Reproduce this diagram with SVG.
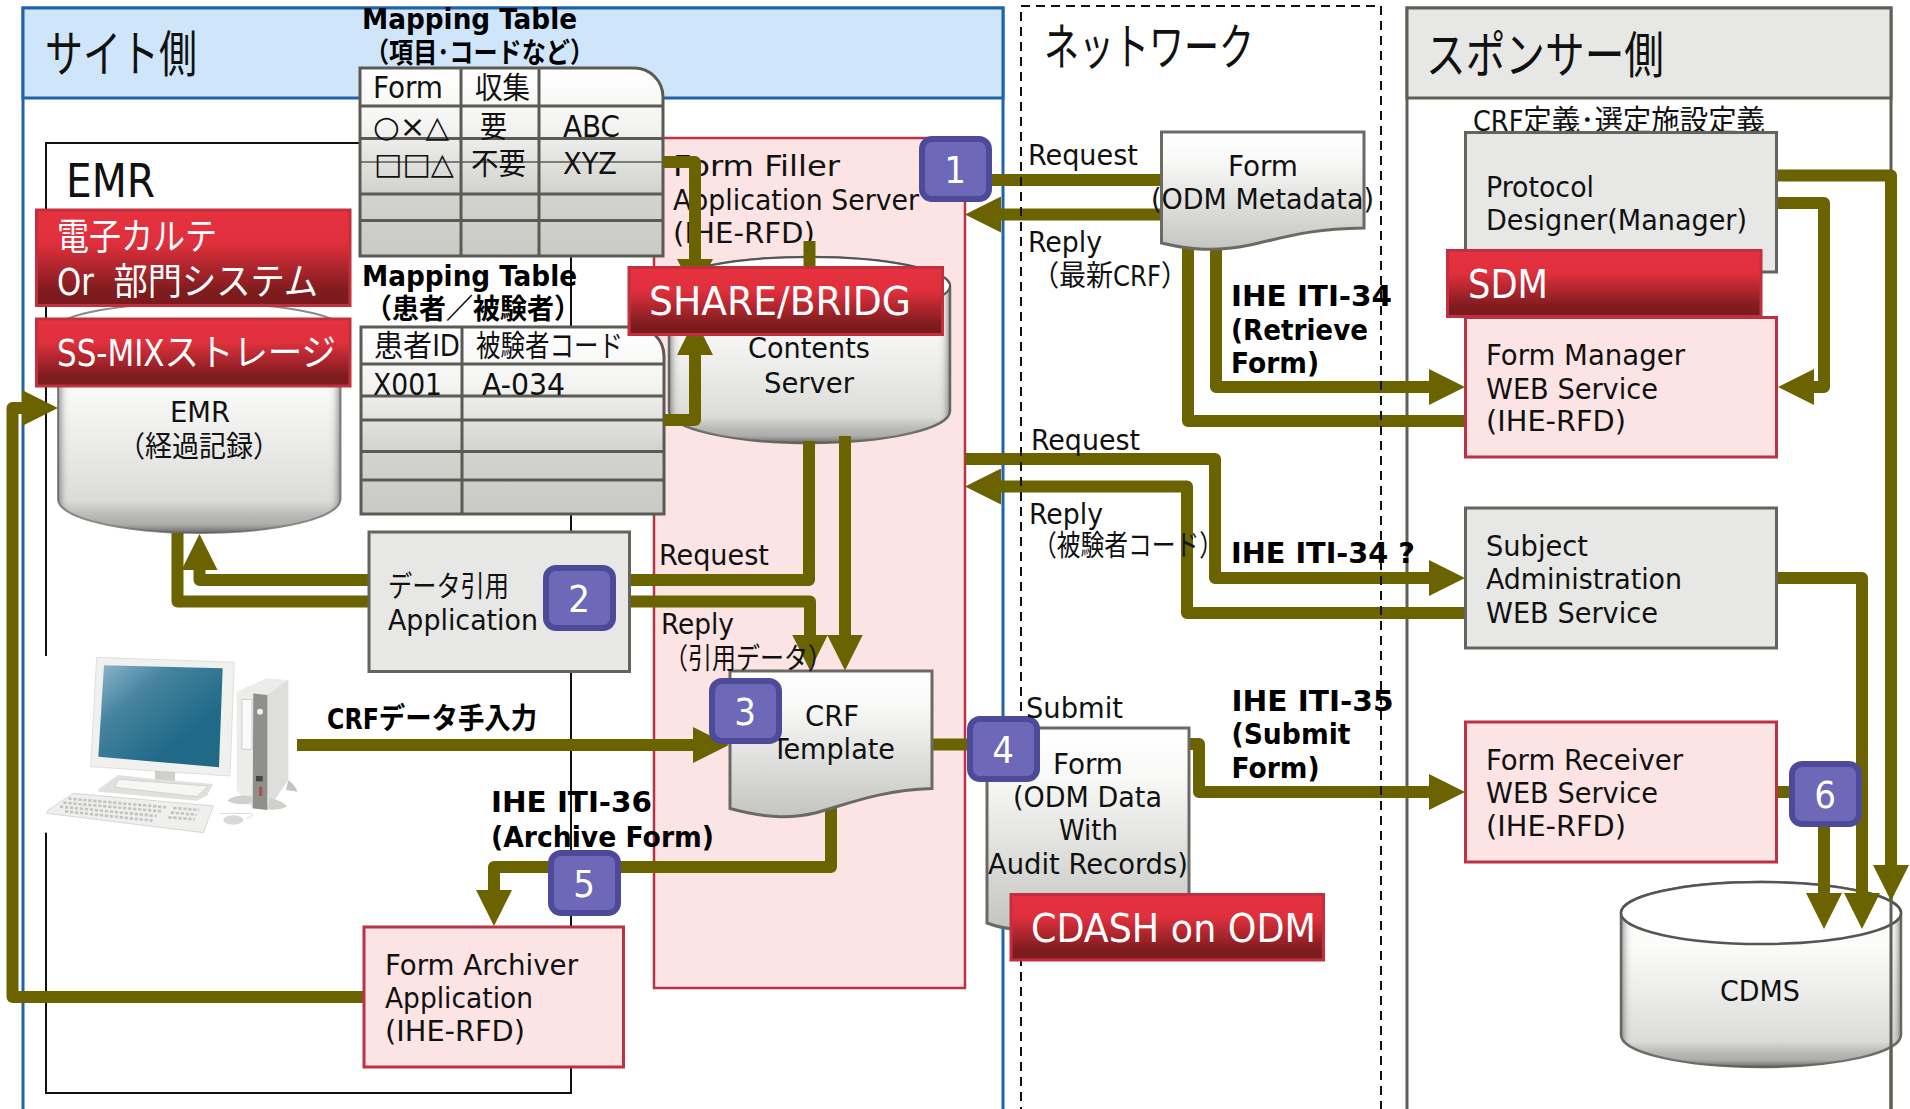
<svg xmlns="http://www.w3.org/2000/svg" width="1910" height="1109" viewBox="0 0 1910 1109">
<defs>
<linearGradient id="red" x1="0" y1="0" x2="0" y2="1"><stop offset="0" stop-color="#e7313f"/><stop offset=".35" stop-color="#df303d"/><stop offset=".85" stop-color="#7e1c1e"/><stop offset="1" stop-color="#7a1b1d"/></linearGradient>
<linearGradient id="doc" x1="0" y1="0" x2="0" y2="1"><stop offset="0" stop-color="#ffffff"/><stop offset=".25" stop-color="#f8f8f7"/><stop offset="1" stop-color="#c4c5c0"/></linearGradient>
<linearGradient id="tbl" x1="0" y1="0" x2="0" y2="1"><stop offset="0" stop-color="#ffffff"/><stop offset=".3" stop-color="#f4f4f3"/><stop offset=".65" stop-color="#d3d3cf"/><stop offset="1" stop-color="#c9cac5"/></linearGradient>
<linearGradient id="cyl" x1="0" y1="0" x2="0" y2="1"><stop offset="0" stop-color="#ffffff"/><stop offset=".35" stop-color="#fbfbfa"/><stop offset=".85" stop-color="#dcddd9"/><stop offset="1" stop-color="#d8d9d5"/></linearGradient>
<linearGradient id="edge" x1="0" y1="0" x2="1" y2="0"><stop offset="0" stop-color="#555" stop-opacity=".6"/><stop offset=".025" stop-color="#888" stop-opacity=".12"/><stop offset=".05" stop-color="#fff" stop-opacity="0"/><stop offset=".95" stop-color="#fff" stop-opacity="0"/><stop offset=".975" stop-color="#888" stop-opacity=".12"/><stop offset="1" stop-color="#555" stop-opacity=".6"/></linearGradient>
<linearGradient id="rim" x1="0" y1="0" x2="0" y2="1"><stop offset=".86" stop-color="#666" stop-opacity="0"/><stop offset=".96" stop-color="#8a8a88" stop-opacity=".55"/><stop offset="1" stop-color="#555" stop-opacity=".85"/></linearGradient>
<linearGradient id="screen" x1="0" y1="0" x2="1" y2="1"><stop offset="0" stop-color="#8fb6cc"/><stop offset=".3" stop-color="#46849f"/><stop offset=".7" stop-color="#206a88"/><stop offset="1" stop-color="#226a86"/></linearGradient>
<marker id="ah" markerUnits="userSpaceOnUse" markerWidth="36" markerHeight="36" refX="6" refY="18" orient="auto"><path d="M0,0 L36,18 L0,36 Z" fill="#6b6300"/></marker>
</defs>
<style>
text{font-family:"DejaVu Sans Condensed","DejaVu Sans","Noto Sans CJK JP",sans-serif;font-size:29px;fill:#111}
.b{font-weight:700;fill:#000}
.h{font-size:50px}
.w{fill:#fff;font-size:37px}
.s{font-size:30px}
.m{font-size:28px}
.n{fill:#fff;font-size:38px;text-anchor:middle}
.c{fill:none;stroke:#6b6300;stroke-width:12;stroke-linejoin:round}
.a{marker-end:url(#ah)}
.g{fill:#e7e7e5;stroke:#64645c;stroke-width:3}
.p{fill:#fce4e4;stroke:#bb3342;stroke-width:3}
.r{fill:url(#red);stroke:#c2303f;stroke-width:3}
.d{fill:url(#doc);stroke:#6a6a64;stroke-width:3}
.t{fill:url(#tbl);stroke:#5b5b53;stroke-width:3}
.l{stroke:#5b5b53;stroke-width:3;fill:none}
.bd{fill:#6d68b8;stroke:#4e4a9a;stroke-width:6}
</style>
<g id="panel-site">
<rect x="23" y="8" width="980" height="1110" fill="#fff" stroke="#1f64a8" stroke-width="3"/>
<rect x="23" y="8" width="980" height="90" fill="#cfe5f9" stroke="#1f64a8" stroke-width="3"/>
<text class="h" x="45" y="72" textLength="152" lengthAdjust="spacingAndGlyphs">サイト側</text>
</g>
<g id="panel-sponsor">
<rect x="1407" y="8" width="484" height="1110" fill="#fff" stroke="#5f5f57" stroke-width="3"/>
<rect x="1407" y="8" width="484" height="90" fill="#e7e7e5" stroke="#5f5f57" stroke-width="3"/>
<text class="h" x="1426" y="73" textLength="238" lengthAdjust="spacingAndGlyphs">スポンサー側</text>
</g>
<g id="emr-frame">
<rect x="46" y="143" width="525" height="950" fill="#fff" stroke="#111" stroke-width="2"/>
<text x="66" y="197" style="font-size:46px" textLength="89" lengthAdjust="spacingAndGlyphs">EMR</text>
</g>
<g id="form-filler">
<rect x="654" y="138" width="311" height="850" fill="#fce4e4" stroke="#bb3342" stroke-width="2.5"/>
<text x="673" y="176" textLength="167" lengthAdjust="spacingAndGlyphs">Form Filler</text>
<text x="673" y="210" textLength="246" lengthAdjust="spacingAndGlyphs">Application Server</text>
<text x="673" y="243" textLength="142" lengthAdjust="spacingAndGlyphs">(IHE-RFD)</text>
</g>
<g id="contents-server">
<path d="M669,286 A140.500,29 0 0 1 950,286 V411 A140.500,32 0 0 1 669,411 Z" fill="url(#cyl)" stroke="#6a6a64" stroke-width="2.500"/>
<path d="M669,286 A140.500,29 0 0 1 950,286 V411 A140.500,32 0 0 1 669,411 Z" fill="url(#edge)"/>
<path d="M669,286 A140.500,29 0 0 1 950,286 V411 A140.500,32 0 0 1 669,411 Z" fill="url(#rim)"/>
<ellipse cx="809.500" cy="286" rx="140.500" ry="29" fill="#fff" stroke="#555" stroke-width="2"/>
<text x="748" y="358" textLength="122" lengthAdjust="spacingAndGlyphs">Contents</text>
<text x="764" y="393" textLength="90" lengthAdjust="spacingAndGlyphs">Server</text>
</g>
<g id="emr-storage">
<path d="M58,328 A141,25 0 0 1 340.500,328 V499 A141,34 0 0 1 58,499 Z" fill="url(#cyl)" stroke="#8a8a86" stroke-width="2"/>
<path d="M58,328 A141,25 0 0 1 340.500,328 V499 A141,34 0 0 1 58,499 Z" fill="url(#edge)"/>
<path d="M58,328 A141,25 0 0 1 340.500,328 V499 A141,34 0 0 1 58,499 Z" fill="url(#rim)"/>
<text x="170" y="422" textLength="60" lengthAdjust="spacingAndGlyphs">EMR</text>
<text x="118" y="457" textLength="162" lengthAdjust="spacingAndGlyphs">（経過記録）</text>
</g>
<g id="computer" transform="translate(40,650) scale(.3333)">
<rect x="-12" y="18" width="800" height="530" fill="#fff"/>
<path d="M590,125 L680,85 L745,90 L745,390 L682,480 L638,475 L590,420 Z" fill="#ececea"/>
<path d="M682,135 L745,90 L745,390 L682,480 Z" fill="#dededc"/>
<path d="M640,130 L682,135 L682,480 L638,475 Z" fill="#8f8f8c"/>
<circle cx="660" cy="185" r="9" fill="#eee"/>
<rect x="606" y="148" width="30" height="150" fill="#fafafa" stroke="#ccc" stroke-width="3"/>
<rect x="648" y="378" width="20" height="16" fill="#444"/>
<rect x="657" y="410" width="10" height="28" fill="#a5505a"/>
<path d="M745,390 Q765,405 773,425 L738,420 Z" fill="#c4c4c1"/>
<path d="M690,445 Q725,450 742,470 Q715,482 684,478 Z" fill="#d0d0cd"/>
<path d="M638,440 Q590,430 562,452 Q590,468 638,460 Z" fill="#d0d0cd"/>
<path d="M170,22 L583,37 L570,378 L152,350 Z" fill="#f0f0ee" stroke="#dfdfdd" stroke-width="3"/>
<path d="M192,46 L548,55 L537,352 L175,320 Z" fill="url(#screen)"/>
<path d="M345,362 L405,366 L405,395 L345,398 Z" fill="#cfcfcc"/>
<path d="M175,418 L235,375 L345,388 L405,392 L520,402 L500,438 L470,452 L175,425 Z" fill="#e0e0de"/>
<path d="M235,388 L505,408 L470,440 L225,412 Z" fill="#f6f6f5" stroke="#d2d2d0" stroke-width="3"/>
<path d="M25,480 L100,430 L520,468 L490,548 L20,490 Z" fill="#efefed" stroke="#d6d6d4" stroke-width="3"/>
<path d="M85,446 L380,472 M70,458 L365,484 M60,470 L350,498 M75,484 L338,512 M400,474 L478,480 M392,488 L470,494 M385,502 L465,508" stroke="#c4c4c2" stroke-width="8" stroke-dasharray="10 5" fill="none"/>
<path d="M540,490 H630 Q650,495 620,505" stroke="#d8d8d6" stroke-width="3" fill="none"/>
<ellipse cx="580" cy="510" rx="30" ry="14" fill="#d8d8d6"/>
</g>
<g id="table-1">
<path class="t" d="M360,68 H634 A29,29 0 0 1 663,97 V256 H360 Z"/>
<path class="l" d="M461,68 V256 M539,68 V256 M360,106 H663 M360,138.500 H663 M360,194 H663 M360,220.500 H663"/>
<path d="M360,162 H663" stroke="#5b5b53" stroke-width="1.500"/>
<text class="s" x="373" y="98" textLength="70" lengthAdjust="spacingAndGlyphs">Form</text>
<text class="s" x="475" y="98" textLength="55" lengthAdjust="spacingAndGlyphs">収集</text>
<text class="s" x="373" y="137" textLength="76" lengthAdjust="spacingAndGlyphs">○×△</text>
<text class="s" x="480" y="137" textLength="27" lengthAdjust="spacingAndGlyphs">要</text>
<text class="s" x="563" y="137" textLength="57" lengthAdjust="spacingAndGlyphs">ABC</text>
<text class="s" x="374" y="174" textLength="80" lengthAdjust="spacingAndGlyphs">□□△</text>
<text class="s" x="471" y="174" textLength="55" lengthAdjust="spacingAndGlyphs">不要</text>
<text class="s" x="563" y="174" textLength="54" lengthAdjust="spacingAndGlyphs">XYZ</text>
</g>
<g id="table-2">
<path class="t" d="M361,327 H635 A29,29 0 0 1 664,356 V514 H361 Z"/>
<path class="l" d="M462,327 V514 M361,364 H664 M361,396 H664 M361,420 H664 M361,451.500 H664 M361,480 H664"/>
<text class="s" x="374" y="356" textLength="86" lengthAdjust="spacingAndGlyphs">患者ID</text>
<text class="s" x="476" y="356" textLength="147" lengthAdjust="spacingAndGlyphs">被験者コード</text>
<text class="s" x="373" y="395" textLength="69" lengthAdjust="spacingAndGlyphs">X001</text>
<text class="s" x="482" y="395" textLength="83" lengthAdjust="spacingAndGlyphs">A-034</text>
</g>
<g id="cdms">
<path d="M1621,913 A140,31 0 0 1 1901,913 V1035 A140,32 0 0 1 1621,1035 Z" fill="url(#cyl)" stroke="#6a6a64" stroke-width="2.500"/>
<path d="M1621,913 A140,31 0 0 1 1901,913 V1035 A140,32 0 0 1 1621,1035 Z" fill="url(#edge)"/>
<path d="M1621,913 A140,31 0 0 1 1901,913 V1035 A140,32 0 0 1 1621,1035 Z" fill="url(#rim)"/>
<ellipse cx="1761" cy="913" rx="140" ry="31" fill="#fff" stroke="#555" stroke-width="2.500"/>
<path d="M1891,895 V1109" stroke="#5f5f57" stroke-width="3"/>
<text x="1720" y="1001" textLength="80" lengthAdjust="spacingAndGlyphs">CDMS</text>
</g>
<g id="connectors">
<path class="c" d="M990,180 H1162"/>
<path class="c a" d="M1162,214.500 H995"/>
<path class="c a" d="M1216,245 V387 H1435"/>
<path class="c" d="M1465,421 H1188 V245"/>
<path class="c a" d="M1776,175.500 H1891 V871"/>
<path class="c a" d="M1776,203 H1824 V387 H1808"/>
<path class="c a" d="M965,459 H1215 V578 H1435"/>
<path class="c a" d="M1465,613 H1187 V486.500 H995"/>
<path class="c a" d="M1776,578 H1862 V899"/>
<path class="c a" d="M1776,792 H1824 V899"/>
<path class="c a" d="M1189,744 H1199 V792 H1435"/>
<path class="c" d="M932,744.500 H988"/>
<path class="c a" d="M297,745 H699"/>
<path class="c a" d="M831,805 V867 H494 V896"/>
<path class="c a" d="M364,997 H12.500 V408 H28"/>
<path class="c a" d="M369,580 H199.500 V564"/>
<path class="c" d="M177.500,533 V601.500 H369"/>
<path class="c" d="M629,580 H809 V441"/>
<path class="c a" d="M629,601.500 H810 V640.500"/>
<path class="c a" d="M845,436 V640.500"/>
<path class="c a" d="M663,162 H695 V265"/>
<path class="c a" d="M664,420 H695 V349"/>
<path class="c" d="M809.500,241 V280"/>
</g>
<g id="frame-network"><rect x="1021" y="6" width="360" height="1110" fill="none" stroke="#111" stroke-width="2" stroke-dasharray="9 6"/>
<text class="h" x="1044" y="65" textLength="210" lengthAdjust="spacingAndGlyphs">ネットワーク</text>
</g>
<g id="data-app">
<rect class="g" x="369" y="532" width="260.500" height="139.500"/>
<text x="388" y="597" textLength="121" lengthAdjust="spacingAndGlyphs">データ引用</text>
<text x="388" y="630" textLength="150" lengthAdjust="spacingAndGlyphs">Application</text>
</g>
<g id="form-archiver">
<rect class="p" x="364" y="927" width="259.500" height="140"/>
<text x="385" y="975" textLength="193" lengthAdjust="spacingAndGlyphs">Form Archiver</text>
<text x="385" y="1008" textLength="148" lengthAdjust="spacingAndGlyphs">Application</text>
<text x="385" y="1041" textLength="140" lengthAdjust="spacingAndGlyphs">(IHE-RFD)</text>
</g>
<g id="crf-template">
<path class="d" d="M730,671 H932 V788.500 C880,790 845,805 815,813 C790,819 765,818 730,808.500 Z"/>
<text x="805" y="726" textLength="54" lengthAdjust="spacingAndGlyphs">CRF</text>
<text x="772" y="759" textLength="123" lengthAdjust="spacingAndGlyphs">Template</text>
</g>
<g id="form-metadata">
<path class="d" d="M1161.500,132 H1364 V228 C1310,229 1290,236 1250,245 C1215,252 1190,250 1161.500,243 Z"/>
<text x="1228" y="176" textLength="70" lengthAdjust="spacingAndGlyphs">Form</text>
<text x="1151" y="208.500" textLength="223" lengthAdjust="spacingAndGlyphs">(ODM Metadata)</text>
</g>
<g id="form-odm">
<path class="d" d="M987,728 H1189 V900 C1130,905 1100,915 1060,925 C1030,932 1005,930 987,923 Z"/>
<text x="1053" y="774" textLength="70" lengthAdjust="spacingAndGlyphs">Form</text>
<text x="1013" y="807" textLength="149" lengthAdjust="spacingAndGlyphs">(ODM Data</text>
<text x="1059" y="840" textLength="59" lengthAdjust="spacingAndGlyphs">With</text>
<text x="988" y="874" textLength="200" lengthAdjust="spacingAndGlyphs">Audit Records)</text>
</g>
<g id="protocol-designer">
<text x="1473" y="131" textLength="292" lengthAdjust="spacingAndGlyphs">CRF定義･選定施設定義</text>
<rect class="g" x="1465.500" y="132.500" width="311" height="139.500"/>
<text x="1486" y="196.500" textLength="108" lengthAdjust="spacingAndGlyphs">Protocol</text>
<text x="1486" y="230" textLength="261" lengthAdjust="spacingAndGlyphs">Designer(Manager)</text>
</g>
<g id="form-manager">
<rect class="p" x="1465.500" y="317.500" width="311" height="139.500"/>
<text x="1486" y="365" textLength="199" lengthAdjust="spacingAndGlyphs">Form Manager</text>
<text x="1486" y="399" textLength="172" lengthAdjust="spacingAndGlyphs">WEB Service</text>
<text x="1486" y="431" textLength="140" lengthAdjust="spacingAndGlyphs">(IHE-RFD)</text>
</g>
<g id="subject-admin">
<rect class="g" x="1465.500" y="508" width="311" height="140"/>
<text x="1486" y="555.500" textLength="102" lengthAdjust="spacingAndGlyphs">Subject</text>
<text x="1486" y="589" textLength="196" lengthAdjust="spacingAndGlyphs">Administration</text>
<text x="1486" y="622.500" textLength="172" lengthAdjust="spacingAndGlyphs">WEB Service</text>
</g>
<g id="form-receiver">
<rect class="p" x="1465.500" y="722" width="311" height="140"/>
<text x="1486" y="769.500" textLength="197" lengthAdjust="spacingAndGlyphs">Form Receiver</text>
<text x="1486" y="803" textLength="172" lengthAdjust="spacingAndGlyphs">WEB Service</text>
<text x="1486" y="836" textLength="140" lengthAdjust="spacingAndGlyphs">(IHE-RFD)</text>
</g>
<g id="label-emr">
<rect class="r" x="36.500" y="210" width="313.500" height="95.500"/>
<text class="w" x="57" y="250" textLength="160" lengthAdjust="spacingAndGlyphs">電子カルテ</text>
<text class="w" x="57" y="295" textLength="261" lengthAdjust="spacingAndGlyphs" xml:space="preserve">Or  部門システム</text>
</g>
<g id="label-ssmix">
<rect class="r" x="36.500" y="319" width="313.500" height="67"/>
<text class="w" x="57" y="366" textLength="279" lengthAdjust="spacingAndGlyphs">SS-MIXストレージ</text>
</g>
<g id="label-share">
<rect class="r" x="629" y="267.500" width="313.500" height="67"/>
<text class="w" x="649" y="315" style="font-size:39px" textLength="262" lengthAdjust="spacingAndGlyphs">SHARE/BRIDG</text>
</g>
<g id="label-sdm">
<rect class="r" x="1447.500" y="250.500" width="313.500" height="66"/>
<text class="w" x="1468" y="298" style="font-size:39px" textLength="80" lengthAdjust="spacingAndGlyphs">SDM</text>
</g>
<g id="label-cdash">
<rect class="r" x="1011" y="894.500" width="312.500" height="65.500"/>
<text class="w" x="1031" y="942" style="font-size:39px" textLength="285" lengthAdjust="spacingAndGlyphs">CDASH on ODM</text>
</g>
<g id="badge-1"><rect class="bd" x="922" y="139" width="67" height="60" rx="10"/><text class="n" x="955" y="183">1</text></g>
<g id="badge-2"><rect class="bd" x="546" y="568" width="67" height="60" rx="10"/><text class="n" x="579" y="612">2</text></g>
<g id="badge-3"><rect class="bd" x="712" y="681" width="67" height="60" rx="10"/><text class="n" x="745" y="725">3</text></g>
<g id="badge-4"><rect class="bd" x="970" y="719" width="67" height="60" rx="10"/><text class="n" x="1003" y="763">4</text></g>
<g id="badge-5"><rect class="bd" x="551" y="853" width="67" height="60" rx="10"/><text class="n" x="584" y="897">5</text></g>
<g id="badge-6"><rect class="bd" x="1792" y="764" width="67" height="60" rx="10"/><text class="n" x="1825" y="808">6</text></g>
<g id="connector-labels">
<text class="b m" x="362" y="29" textLength="215" lengthAdjust="spacingAndGlyphs">Mapping Table</text>
<text class="b m" x="365" y="63" textLength="229" lengthAdjust="spacingAndGlyphs">（項目･コードなど）</text>
<text class="b m" x="362" y="286" textLength="215" lengthAdjust="spacingAndGlyphs">Mapping Table</text>
<text class="b m" x="365" y="319" textLength="216" lengthAdjust="spacingAndGlyphs">（患者／被験者）</text>
<text x="1028" y="165" textLength="110" lengthAdjust="spacingAndGlyphs">Request</text>
<text x="1028" y="252" textLength="74" lengthAdjust="spacingAndGlyphs">Reply</text>
<text x="1032" y="286" textLength="156" lengthAdjust="spacingAndGlyphs">（最新CRF）</text>
<text x="1031" y="450" textLength="109" lengthAdjust="spacingAndGlyphs">Request</text>
<text x="1029" y="524" textLength="74" lengthAdjust="spacingAndGlyphs">Reply</text>
<text x="1033" y="556" textLength="190" lengthAdjust="spacingAndGlyphs">（被験者コード）</text>
<text x="1026" y="718" textLength="97" lengthAdjust="spacingAndGlyphs">Submit</text>
<text x="659" y="565" textLength="110" lengthAdjust="spacingAndGlyphs">Request</text>
<text x="661" y="634" textLength="73" lengthAdjust="spacingAndGlyphs">Reply</text>
<text x="664" y="669" textLength="168" lengthAdjust="spacingAndGlyphs">（引用データ）</text>
<text class="b" x="1231" y="306" textLength="161" lengthAdjust="spacingAndGlyphs">IHE ITI-34</text>
<text class="b" x="1231" y="339.500" textLength="137" lengthAdjust="spacingAndGlyphs">(Retrieve</text>
<text class="b" x="1231" y="373" textLength="88" lengthAdjust="spacingAndGlyphs">Form)</text>
<text class="b" x="1231" y="562.500" textLength="184" lengthAdjust="spacingAndGlyphs">IHE ITI-34 ?</text>
<text class="b" x="1231.500" y="710.500" textLength="162" lengthAdjust="spacingAndGlyphs">IHE ITI-35</text>
<text class="b" x="1231.500" y="744" textLength="119" lengthAdjust="spacingAndGlyphs">(Submit</text>
<text class="b" x="1231.500" y="777.500" textLength="88" lengthAdjust="spacingAndGlyphs">Form)</text>
<text class="b" x="491" y="812" textLength="161" lengthAdjust="spacingAndGlyphs">IHE ITI-36</text>
<text class="b" x="491" y="846.500" textLength="223" lengthAdjust="spacingAndGlyphs">(Archive Form)</text>
<text class="b" x="327" y="729" textLength="210" lengthAdjust="spacingAndGlyphs">CRFデータ手入力</text>
</g>
</svg>
